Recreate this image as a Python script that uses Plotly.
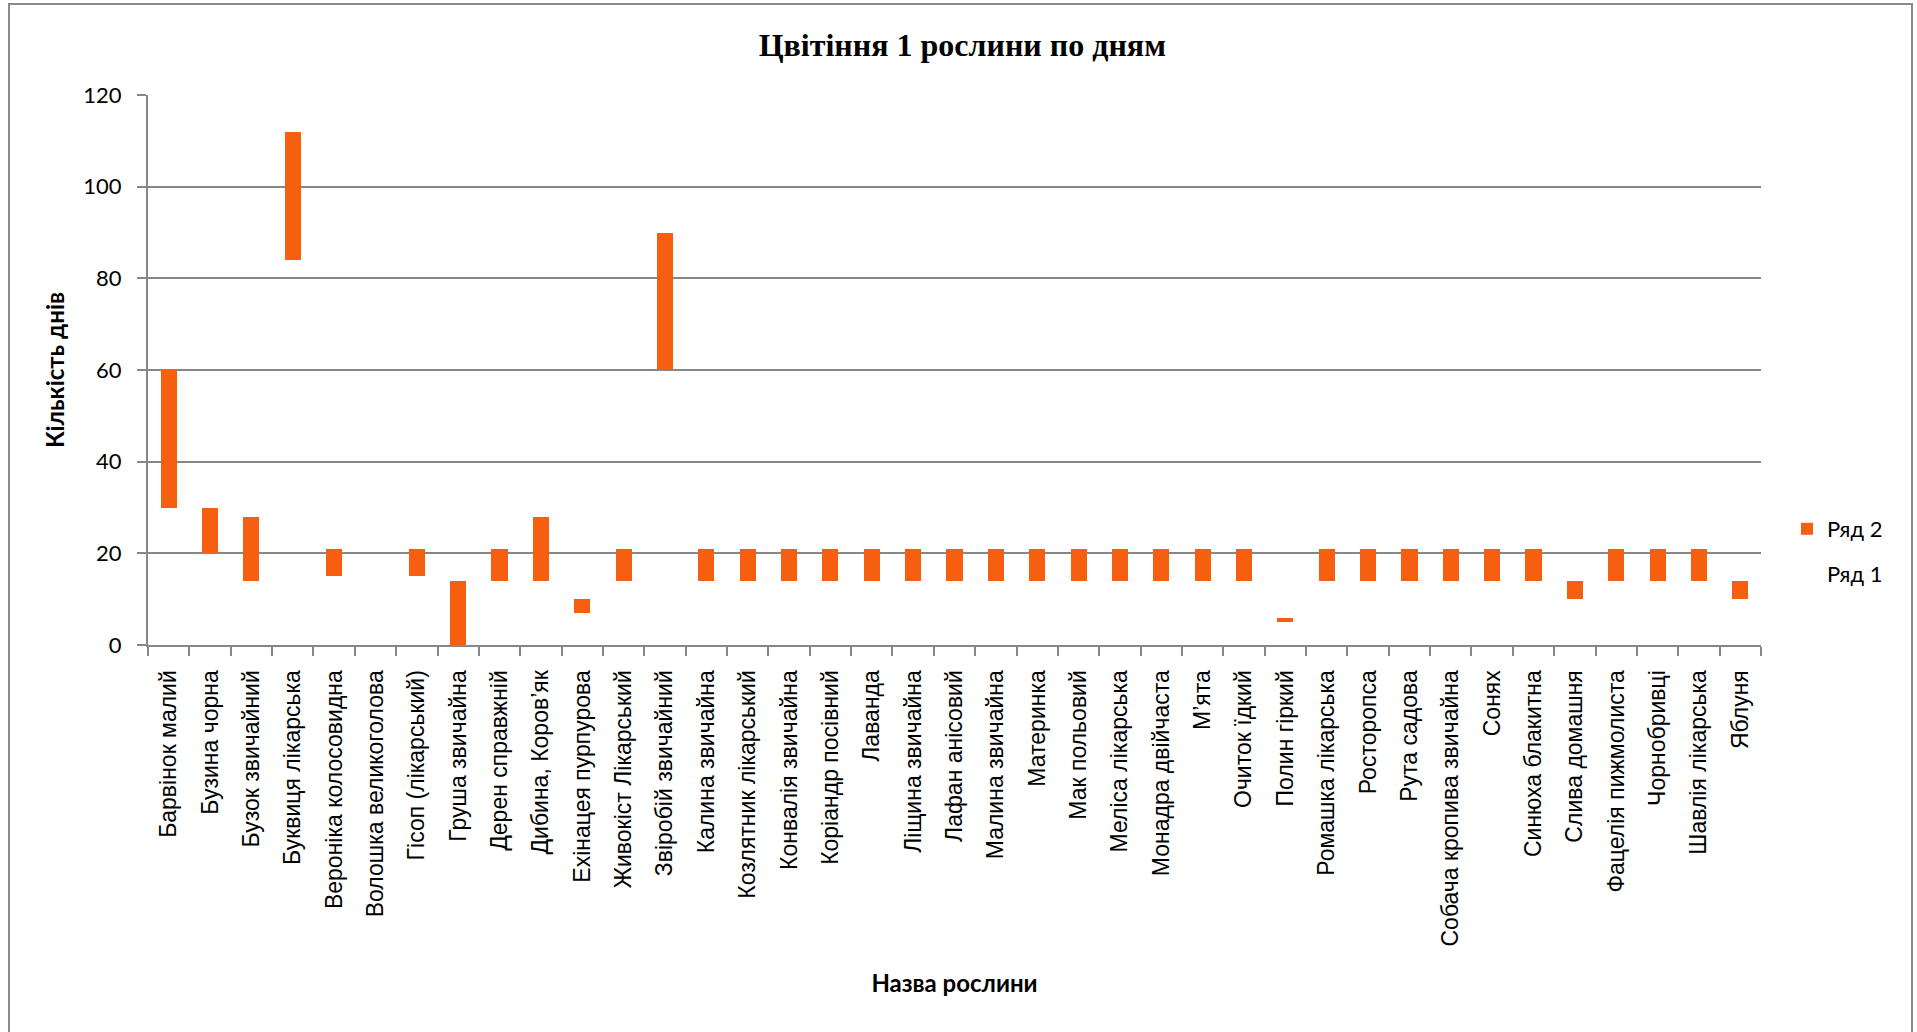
import plotly.graph_objects as go

plants = [
    "Барвінок малий", "Бузина чорна", "Бузок звичайний", "Буквиця лікарська",
    "Вероніка колосовидна", "Волошка великоголова", "Гісоп (лікарський)",
    "Груша звичайна", "Дерен справжній", "Дибина, Коров’як", "Ехінацея пурпурова",
    "Живокіст Лікарський", "Звіробій звичайний", "Калина звичайна",
    "Козлятник лікарський", "Конвалія звичайна", "Коріандр посівний", "Лаванда",
    "Ліщина звичайна", "Лафан анісовий", "Малина звичайна", "Материнка",
    "Мак польовий", "Меліса лікарська", "Монадра двійчаста", "М’ята",
    "Очиток їдкий", "Полин гіркий", "Ромашка лікарська", "Росторопса",
    "Рута садова", "Собача кропива звичайна", "Сонях", "Синюха блакитна",
    "Слива домашня", "Фацелія пижмолиста", "Чорнобривці", "Шавлія лікарська",
    "Яблуня",
]

# Ряд 1 — start (invisible base), Ряд 2 — flowering duration (visible)
row1 = [30, 20, 14, 84, 15, 0, 15, 0, 14, 14, 7, 14, 60, 14, 14, 14, 14, 14,
        14, 14, 14, 14, 14, 14, 14, 14, 14, 5, 14, 14, 14, 14, 14, 14, 10, 14,
        14, 14, 10]
row2 = [30, 10, 14, 28, 6, 0, 6, 14, 7, 14, 3, 7, 30, 7, 7, 7, 7, 7,
        7, 7, 7, 7, 7, 7, 7, 7, 7, 1, 7, 7, 7, 7, 7, 7, 4, 7,
        7, 7, 4]

y_ticks = [0, 20, 40, 60, 80, 100, 120]

W, H = 1917, 1032
ML, MR, MT, MB = 148, 156, 95, 387
PW, PH = W - ML - MR, H - MT - MB

ORANGE = "#F65F10"
GRID = "#878787"

fig = go.Figure()
fig.add_trace(go.Bar(
    x=plants, y=row1, name="Ряд 1", legendgroup="r1", legendrank=2,
    marker=dict(color="rgba(0,0,0,0)", line=dict(width=0)),
    hoverinfo="skip",
))
fig.add_trace(go.Bar(
    x=plants, y=row2, name="Ряд 2", legendgroup="r2", legendrank=1,
    marker=dict(color=ORANGE, line=dict(width=0)),
))


def px_x(px):
    return (px - ML) / PW


def px_y(py):
    return (H - MB - py) / PH


fig.update_layout(
    width=W, height=H,
    margin=dict(l=ML, r=MR, t=MT, b=MB, autoexpand=False),
    paper_bgcolor="white", plot_bgcolor="white",
    barmode="stack", bargap=0.61,
    title=dict(
        text="<b>Цвітіння 1 рослини по дням</b>",
        font=dict(family="Liberation Serif", size=32, color="black"),
        x=0.502, xref="container", xanchor="center",
        y=1 - 45 / H, yref="container", yanchor="middle",
    ),
    legend=dict(
        x=px_x(1787), y=px_y(508), xanchor="left", yanchor="top",
        traceorder="grouped", tracegroupgap=13,
        font=dict(family="Lato", size=22, color="black"),
        bgcolor="rgba(0,0,0,0)", itemwidth=30,
    ),
    xaxis=dict(
        type="category", tickangle=-90,
        tickfont=dict(family="Liberation Sans", size=23, color="black"),
        showline=True, linecolor=GRID, linewidth=2,
        ticks="outside", tickson="boundaries", ticklen=9, tickcolor=GRID, tickwidth=1.5,
        ticklabelstandoff=14,
        showgrid=False, automargin=False,
        title=dict(text="<b>Назва рослини</b>",
                   font=dict(family="Lato", size=24, color="black"),
                   standoff=30),
    ),
    yaxis=dict(
        range=[0, 120], tickvals=y_ticks, ticktext=[str(v) for v in y_ticks],
        tickfont=dict(family="Lato", size=22, color="black"),
        showline=True, linecolor=GRID, linewidth=2,
        ticks="outside", ticklen=9, tickcolor=GRID, tickwidth=1.5,
        ticklabelstandoff=11,
        showgrid=True, gridcolor=GRID, gridwidth=1.5,
        zeroline=False, automargin=False,
        title=dict(text="<b>Кількість днів</b>",
                   font=dict(family="Lato", size=24, color="black"),
                   standoff=12),
    ),
    shapes=[dict(
        type="rect", xref="paper", yref="paper",
        x0=px_x(9), x1=px_x(1912), y0=px_y(1040), y1=px_y(4),
        line=dict(color="#8a8a8a", width=2), fillcolor="rgba(0,0,0,0)",
        layer="below",
    )],
)

fig.write_html("out.html")
